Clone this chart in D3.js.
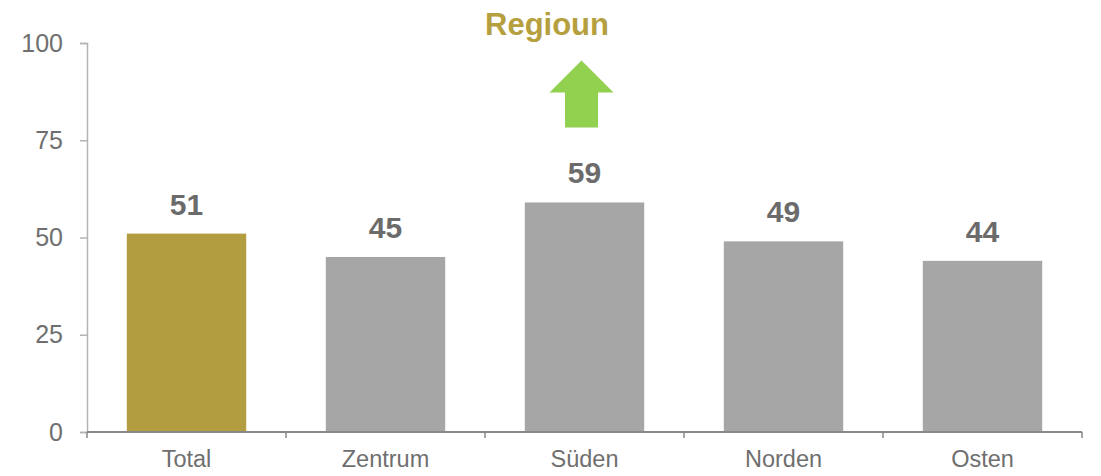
<!DOCTYPE html>
<html>
<head>
<meta charset="utf-8">
<script src="https://cdn.jsdelivr.net/npm/d3@7"></script>
<style>
  body { margin: 0; background: #fff; font-family: Arial, "Liberation Sans", sans-serif; }
</style>
</head>
<body>
<div id="chart"></div>
<script>
// Data
const categories = ["Total", "Zentrum", "Süden", "Norden", "Osten"];
const values = [51, 45, 59, 49, 44];
const yTicks = [0, 25, 50, 75, 100];
const title = "Regioun";
const arrowCategory = "Süden";

const width = 1101, height = 476;
const margin = { top: 43, right: 19, bottom: 44, left: 87 };
const innerW = width - margin.left - margin.right;
const innerH = height - margin.top - margin.bottom;

const svg = d3.select("#chart")
    .append("svg")
    .attr("width", width)
    .attr("height", height);

const g = svg.append("g")
    .attr("transform", `translate(${margin.left},${margin.top})`);

const x = d3.scaleBand()
    .domain(categories)
    .range([0, innerW])
    .paddingInner(0.4)
    .paddingOuter(0.2);

const y = d3.scaleLinear()
    .domain([0, 100])
    .range([innerH, 0]);

// Y axis
const yAxis = g.append("g")
    .call(d3.axisLeft(y).tickValues(yTicks).tickSize(7).tickPadding(17));
yAxis.select(".domain").attr("stroke", "#b3b3b3").attr("stroke-width", 1.5);
yAxis.selectAll(".tick line").attr("stroke", "#b3b3b3").attr("stroke-width", 1.5);
yAxis.selectAll(".tick text")
    .attr("fill", "#6f6f6f")
    .style("font-size", "25px")
    .style("font-family", "Arial, 'Liberation Sans', sans-serif");

// Bars
g.selectAll(".bar")
    .data(categories)
    .enter().append("rect")
    .attr("class", "bar")
    .attr("x", d => x(d))
    .attr("width", x.bandwidth())
    .attr("y", (d, i) => y(values[i]))
    .attr("height", (d, i) => innerH - y(values[i]))
    .attr("fill", (d, i) => i === 0 ? "#b39d41" : "#a6a6a6");

// Value labels
g.selectAll(".val")
    .data(categories)
    .enter().append("text")
    .attr("class", "val")
    .attr("x", d => x(d) + x.bandwidth() / 2)
    .attr("y", (d, i) => y(values[i]) - 19)
    .attr("text-anchor", "middle")
    .attr("fill", "#6b6b6b")
    .style("font-size", "30px")
    .style("font-weight", "bold")
    .text((d, i) => values[i]);

// X axis: line with ticks at category boundaries
const xAxis = g.append("g").attr("transform", `translate(0,${innerH})`);
xAxis.append("line")
    .attr("x1", 0).attr("x2", innerW)
    .attr("stroke", "#888").attr("stroke-width", 2);
const step = x.step();
const bounds = d3.range(categories.length + 1).map(i => i * step);
xAxis.selectAll(".xtick")
    .data(bounds)
    .enter().append("line")
    .attr("x1", d => d).attr("x2", d => d)
    .attr("y1", 0).attr("y2", 6)
    .attr("stroke", "#888").attr("stroke-width", 1.5);
xAxis.selectAll(".xlabel")
    .data(categories)
    .enter().append("text")
    .attr("x", d => x(d) + x.bandwidth() / 2)
    .attr("y", 35)
    .attr("text-anchor", "middle")
    .attr("fill", "#6f6f6f")
    .style("font-size", "23.5px")
    .text(d => d);

// Green up arrow above Süden
const ax = x(arrowCategory) + x.bandwidth() / 2 - 3;
const tipY = y(95.5), headY = y(87.3), baseY = y(78.3);
const headHalf = 32, shaftHalf = 16.5;
g.append("path")
    .attr("d", `M${ax},${tipY} L${ax + headHalf},${headY} L${ax + shaftHalf},${headY} L${ax + shaftHalf},${baseY}
                L${ax - shaftHalf},${baseY} L${ax - shaftHalf},${headY} L${ax - headHalf},${headY} Z`)
    .attr("fill", "#92d050");

// Title
svg.append("text")
    .attr("x", 547)
    .attr("y", 35)
    .attr("text-anchor", "middle")
    .attr("fill", "#b59f3f")
    .style("font-size", "31px")
    .style("font-weight", "bold")
    .text(title);
</script>
</body>
</html>
